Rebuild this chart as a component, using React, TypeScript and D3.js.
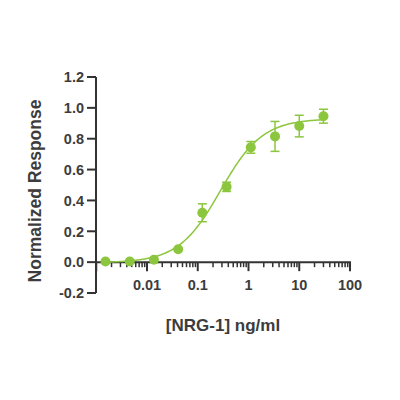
import React from "react";
import * as d3 from "d3";

const concentrations = [0.00152, 0.00457, 0.0137, 0.0412, 0.123, 0.370, 1.11, 3.33, 10, 30];
const responses = [0.004, 0.004, 0.016, 0.084, 0.32, 0.488, 0.744, 0.815, 0.882, 0.946];
const errors = [0, 0, 0, 0, 0.058, 0.03, 0.038, 0.097, 0.07, 0.045];
const xTickValues = [0.01, 0.1, 1, 10, 100];
const xTickLabels = ["0.01", "0.1", "1", "10", "100"];
const yTickValues = [-0.2, 0, 0.2, 0.4, 0.6, 0.8, 1.0, 1.2];
const yTickLabels = ["-0.2", "0.0", "0.2", "0.4", "0.6", "0.8", "1.0", "1.2"];
// 4PL fit parameters
const fitBottom = -0.004;
const fitTop = 0.93;
const fitEC50 = 0.28;
const fitHill = 1.05;

const GREEN = "#8cc63e";
const AXIS = "#333333";
const TEXT = "#3c3c3c";
const FONT = "'Liberation Sans', Arial, sans-serif";

export default function App() {
  const x = d3.scaleLog().domain([0.001, 100]).range([96.25, 350]);
  const y = d3.scaleLinear().domain([-0.2, 1.2]).range([293, 77]);
  const y0 = y(0);

  const minorTicks: number[] = [];
  for (let e = -3; e < 2; e++) {
    for (let m = 2; m <= 9; m++) minorTicks.push(m * Math.pow(10, e));
  }

  const fourPL = (c: number) =>
    fitBottom + (fitTop - fitBottom) / (1 + Math.pow(fitEC50 / c, fitHill));
  const curveXs = d3.range(0, 201).map((i) => {
    const lo = Math.log10(concentrations[0]);
    const hi = Math.log10(concentrations[concentrations.length - 1]);
    return Math.pow(10, lo + ((hi - lo) * i) / 200);
  });
  const line = d3
    .line<number>()
    .x((c) => x(c))
    .y((c) => y(fourPL(c)))
    .curve(d3.curveLinear);

  return (
    <svg width={400} height={400} style={{ position: "absolute", left: 0, top: 0, background: "#fff" }}>
      {/* y axis */}
      <line x1={96} x2={96} y1={y(1.2)} y2={y(-0.2)} stroke={AXIS} strokeWidth={2} />
      {yTickValues.map((v, i) => (
        <g key={"yt" + i}>
          <line x1={87} x2={96} y1={y(v)} y2={y(v)} stroke={AXIS} strokeWidth={2} />
          <text
            x={84}
            y={y(v)}
            dy="0.36em"
            textAnchor="end"
            fontFamily={FONT}
            fontWeight="bold"
            fontSize={14.5}
            fill={TEXT}
          >
            {yTickLabels[i]}
          </text>
        </g>
      ))}
      {/* x axis */}
      <line x1={95} x2={x(100) + 1} y1={y0} y2={y0} stroke={AXIS} strokeWidth={2} />
      {minorTicks.map((v, i) => (
        <line key={"mt" + i} x1={x(v)} x2={x(v)} y1={y0} y2={y0 + 5} stroke={AXIS} strokeWidth={1.5} />
      ))}
      {[0.001, ...xTickValues].map((v, i) => (
        <line key={"xt" + i} x1={x(v)} x2={x(v)} y1={y0} y2={y0 + 9} stroke={AXIS} strokeWidth={2} />
      ))}
      {xTickValues.map((v, i) => (
        <text
          key={"xl" + i}
          x={x(v)}
          y={290}
          textAnchor="middle"
          fontFamily={FONT}
          fontWeight="bold"
          fontSize={14.5}
          fill={TEXT}
        >
          {xTickLabels[i]}
        </text>
      ))}
      {/* titles */}
      <text
        x={223}
        y={331}
        textAnchor="middle"
        fontFamily={FONT}
        fontWeight="bold"
        fontSize={17}
        fill={TEXT}
      >
        [NRG-1] ng/ml
      </text>
      <text
        transform={`translate(41,${191}) rotate(-90)`}
        textAnchor="middle"
        fontFamily={FONT}
        fontWeight="bold"
        fontSize={17.5}
        fill={TEXT}
      >
        Normalized Response
      </text>
      {/* fit curve */}
      <path d={line(curveXs) || ""} fill="none" stroke={GREEN} strokeWidth={1.5} />
      {/* error bars */}
      {concentrations.map((c, i) =>
        errors[i] > 0 ? (
          <g key={"eb" + i} stroke={GREEN} strokeWidth={1.5}>
            <line x1={x(c)} x2={x(c)} y1={y(responses[i] - errors[i])} y2={y(responses[i] + errors[i])} />
            <line x1={x(c) - 4.5} x2={x(c) + 4.5} y1={y(responses[i] + errors[i])} y2={y(responses[i] + errors[i])} />
            <line x1={x(c) - 4.5} x2={x(c) + 4.5} y1={y(responses[i] - errors[i])} y2={y(responses[i] - errors[i])} />
          </g>
        ) : null
      )}
      {/* points */}
      {concentrations.map((c, i) => (
        <circle key={"pt" + i} cx={x(c)} cy={y(responses[i])} r={5} fill={GREEN} />
      ))}
    </svg>
  );
}
